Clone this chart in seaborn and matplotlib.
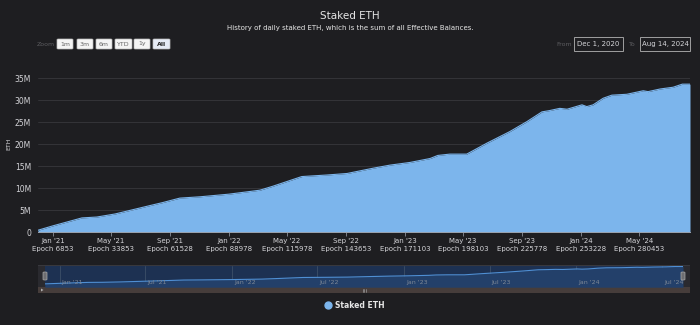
import matplotlib
matplotlib.use("Agg")
import matplotlib.pyplot as plt
import matplotlib.dates as mdates
from matplotlib.patches import FancyBboxPatch, Rectangle, Polygon
import pandas as pd
import seaborn as sns

# Daily staked ETH (millions), sampled at the turning points of the curve
dates = [
    "2020-12-01", "2021-01-01", "2021-03-02", "2021-04-02", "2021-05-10",
    "2021-07-21", "2021-08-17", "2021-09-21", "2021-11-02", "2022-01-01",
    "2022-02-13", "2022-03-06", "2022-04-02", "2022-06-01", "2022-07-23",
    "2022-09-03", "2022-10-27", "2022-12-01", "2023-01-11", "2023-02-22",
    "2023-03-10", "2023-04-04", "2023-05-09", "2023-06-20", "2023-08-06",
    "2023-09-11", "2023-10-12", "2023-10-28", "2023-11-18", "2023-12-03",
    "2024-01-03", "2024-01-13", "2024-01-26", "2024-02-16", "2024-03-05",
    "2024-04-05", "2024-05-09", "2024-05-19", "2024-06-13", "2024-07-10",
    "2024-07-29", "2024-08-14",
]
staked_eth_m = [
    0.4, 1.4, 3.2, 3.4, 4.1,
    6.0, 6.7, 7.7, 8.0, 8.6,
    9.2, 9.5, 10.4, 12.6, 12.95,
    13.3, 14.5, 15.2, 15.8, 16.7,
    17.4, 17.7, 17.7, 20.2, 22.8,
    25.1, 27.3, 27.6, 28.1, 27.9,
    28.9, 28.5, 28.9, 30.4, 31.1,
    31.3, 32.1, 31.9, 32.5, 32.9,
    33.6, 33.6,
]

# Axis ticks
y_ticks = [0, 5, 10, 15, 20, 25, 30, 35]
y_tick_labels = ["0", "5M", "10M", "15M", "20M", "25M", "30M", "35M"]
x_tick_dates = ["2021-01-01", "2021-05-01", "2021-09-01", "2022-01-01",
                "2022-05-01", "2022-09-01", "2023-01-01", "2023-05-01",
                "2023-09-01", "2024-01-01", "2024-05-01"]
x_tick_months = ["Jan '21", "May '21", "Sep '21", "Jan '22", "May '22",
                 "Sep '22", "Jan '23", "May '23", "Sep '23", "Jan '24",
                 "May '24"]
x_tick_epochs = ["6853", "33853", "61528", "88978", "115978", "143653",
                 "171103", "198103", "225778", "253228", "280453"]
nav_tick_dates = ["2021-01-01", "2021-07-01", "2022-01-01", "2022-07-01",
                  "2023-01-01", "2023-07-01", "2024-01-01", "2024-07-01"]
nav_tick_labels = ["Jan '21", "Jul '21", "Jan '22", "Jul '22",
                   "Jan '23", "Jul '23", "Jan '24", "Jul '24"]
zoom_buttons = ["1m", "3m", "6m", "YTD", "1y", "All"]
range_from = "Dec 1, 2020"
range_to = "Aug 14, 2024"

df = pd.DataFrame({"date": pd.to_datetime(dates), "eth": staked_eth_m})

BG = "#1e1e21"
AREA = "#7cb5ec"
TXT = "#d4d4d8"
GRID = "#38383c"

sns.set_theme(style="dark")
plt.rcParams["font.family"] = ["DejaVu Sans"]

W, H = 700, 325
fig = plt.figure(figsize=(W / 100, H / 100), dpi=100, facecolor=BG)


def fx(x):
    return x / W


def fy(y):
    return 1 - y / H


def box(x0, y0, x1, y1):
    return [fx(x0), fy(y1), fx(x1) - fx(x0), fy(y0) - fy(y1)]


# ---- main chart ----
ax = fig.add_axes(box(38, 78, 690, 232))
ax.set_facecolor(BG)
ax.fill_between(df["date"], df["eth"], 0, color=AREA, lw=0, zorder=2)
sns.lineplot(data=df, x="date", y="eth", ax=ax, color=AREA, lw=0.8, zorder=3)
ax.set_xlim(pd.Timestamp("2020-12-01"), pd.Timestamp("2024-08-14"))
ax.set_ylim(0, 35)
ax.set_yticks(y_ticks)
ax.set_yticklabels(y_tick_labels)
ax.yaxis.grid(True, color=GRID, lw=0.6)
ax.xaxis.grid(False)
ax.set_xticks(pd.to_datetime(x_tick_dates))
ax.set_xticklabels([f"{m}\nEpoch {e}" for m, e in zip(x_tick_months, x_tick_epochs)],
                   linespacing=1.25)
ax.tick_params(axis="y", length=0, pad=5, labelsize=5.5, labelcolor=TXT)
ax.tick_params(axis="x", length=3, width=0.6, color="#8a8f99", pad=1.5,
               labelsize=5, labelcolor=TXT, bottom=True)
for s in ["top", "right", "left"]:
    ax.spines[s].set_visible(False)
ax.spines["bottom"].set_color("#9aa3b0")
ax.spines["bottom"].set_linewidth(0.7)
ax.set_xlabel("")
ax.set_ylabel("")
fig.text(fx(9), fy(144), "ETH", rotation=90, ha="center", va="center",
         fontsize=4.5, color=TXT)

# ---- header ----
fig.text(0.5, fy(16), "Staked ETH", ha="center", va="center", fontsize=7.5, color="#e6e6e6")
fig.text(0.5, fy(28), "History of daily staked ETH, which is the sum of all Effective Balances.",
         ha="center", va="center", fontsize=5, color="#e6e6e6")

fig.text(fx(55), fy(44), "Zoom", ha="right", va="center", fontsize=4.5, color="#5c5c60")
btn_x = [(57, 73), (77, 93), (96, 112), (115, 132), (134, 150), (153, 170)]
for (x0, x1), lab in zip(btn_x, zoom_buttons):
    sel = lab == "All"
    fig.patches.append(FancyBboxPatch(
        (fx(x0), fy(49)), fx(x1) - fx(x0), fy(39) - fy(49),
        boxstyle="round,pad=0,rounding_size=0.002", transform=fig.transFigure,
        facecolor="#e6ebf5" if sel else "#f4f4f4", edgecolor="#bdbdbd", lw=0.5))
    fig.text(fx((x0 + x1) / 2), fy(44), lab, ha="center", va="center", fontsize=4.5,
             color="#222222" if sel else "#666666", fontweight="bold" if sel else "normal")

fig.text(fx(572), fy(44), "From", ha="right", va="center", fontsize=4.5, color="#5c5c60")
fig.text(fx(636), fy(44), "To", ha="right", va="center", fontsize=4.5, color="#5c5c60")
for (x0, x1), lab in [((574, 623), range_from), ((640, 690), range_to)]:
    fig.patches.append(Rectangle((fx(x0), fy(51)), fx(x1) - fx(x0), fy(37) - fy(51),
                                 transform=fig.transFigure, facecolor=BG,
                                 edgecolor="#a0a0a0", lw=0.7))
    fig.text(fx((x0 + x1) / 2), fy(44), lab, ha="center", va="center", fontsize=5, color=TXT)

# ---- navigator ----
outer = fig.add_axes(box(38, 265, 690, 287), zorder=1)
outer.set_facecolor("#2a2a2f")
outer.set_xticks([])
outer.set_yticks([])
for s in outer.spines.values():
    s.set_visible(False)
outer.axhline(1, color="#3c3c40", lw=1.2)

nav = fig.add_axes(box(45, 265.5, 683, 287), zorder=2)
nav.set_facecolor("#1d3152")
nav.fill_between(df["date"], df["eth"], -6, color="#23406a", lw=0, zorder=1)
sns.lineplot(data=df, x="date", y="eth", ax=nav, color="#4f8fd4", lw=0.8, zorder=2)
nav.set_xlim(pd.Timestamp("2020-12-01"), pd.Timestamp("2024-08-14"))
nav.set_ylim(-5.6, 35.5)
nav.set_xticks(pd.to_datetime(nav_tick_dates))
nav.set_xticklabels([])
nav.set_yticks([])
nav.xaxis.grid(True, color="#3d4f68", lw=0.6)
nav.yaxis.grid(False)
nav.tick_params(length=0)
nav.set_xlabel("")
nav.set_ylabel("")
for s in nav.spines.values():
    s.set_visible(False)
for d, lab in zip(pd.to_datetime(nav_tick_dates), nav_tick_labels):
    nav.annotate(lab, (mdates.date2num(d), 0), xycoords=("data", "axes fraction"),
                 xytext=(1.5, 1.5), textcoords="offset points", ha="left", va="bottom",
                 fontsize=4.5, color="#7d8795")

# navigator handles
for hx in (45, 683):
    fig.patches.append(FancyBboxPatch((fx(hx - 2), fy(280)), fx(4), fy(272) - fy(280),
                                      boxstyle="round,pad=0,rounding_size=0.002",
                                      transform=fig.transFigure, facecolor="#6e6e72",
                                      edgecolor="#a8a8a8", lw=0.5, zorder=5))

# scrollbar
fig.patches.append(Rectangle((fx(38), fy(293)), fx(690) - fx(38), fy(287) - fy(293),
                             transform=fig.transFigure, facecolor="#463d3b", edgecolor="none"))
fig.patches.append(Polygon([(fx(41), fy(288.5)), (fx(41), fy(291.5)), (fx(43.5), fy(290))],
                           closed=True, transform=fig.transFigure, facecolor="#b0b0b0",
                           edgecolor="none"))
for gx in (362.5, 364, 365.5):
    fig.lines.append(plt.Line2D([fx(gx), fx(gx)], [fy(288.5), fy(291.5)],
                                transform=fig.transFigure, color="#9a9a9a", lw=0.5))

# ---- legend ----
fig.lines.append(plt.Line2D([fx(328)], [fy(305)], transform=fig.transFigure,
                            marker="o", markersize=5, color=AREA, lw=0))
fig.text(fx(335), fy(305), "Staked ETH", ha="left", va="center", fontsize=5.5,
         fontweight="bold", color="#e6e6e6")

fig.savefig("out.png", dpi=100, facecolor=BG)
